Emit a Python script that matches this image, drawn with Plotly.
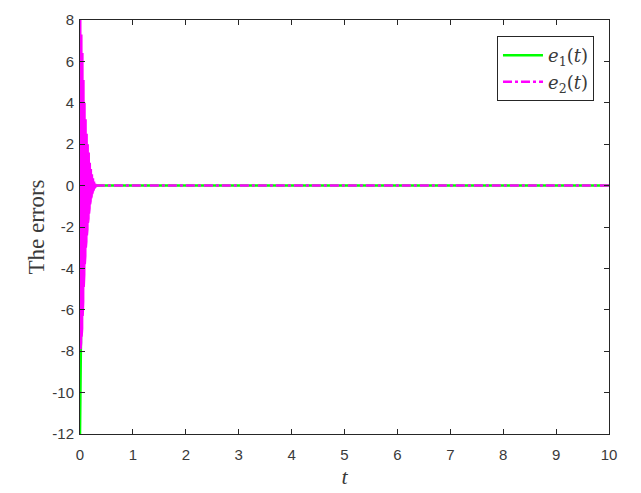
import plotly.graph_objects as go

# ---- data ----
t_e1 = [0.0, 0.005, 0.01, 0.02, 0.04, 0.06, 0.08, 0.10, 0.14, 0.18, 0.22, 0.26, 0.30, 1.0, 10.0]
e1 = [-12.0, -10.5, -9.0, -7.0, -5.0, -3.6, -2.6, -1.9, -1.0, -0.5, -0.25, -0.1, 0.0, 0.0, 0.0]

# e2: fast, decaying oscillation (successive peaks read from the envelope), then flat at zero
t_e2_osc = [0.000, 0.005, 0.010, 0.015, 0.020, 0.025, 0.030, 0.035, 0.040, 0.045,
            0.050, 0.055, 0.060, 0.065, 0.070, 0.075, 0.080, 0.085, 0.090, 0.095,
            0.100, 0.105, 0.110, 0.115, 0.120, 0.125, 0.130, 0.135, 0.140, 0.145,
            0.150, 0.155, 0.160, 0.165, 0.170, 0.175, 0.180, 0.185, 0.190, 0.195,
            0.200, 0.205, 0.210, 0.215, 0.220, 0.225, 0.230, 0.235, 0.240, 0.245,
            0.250, 0.255, 0.260, 0.265, 0.270, 0.275, 0.280, 0.285, 0.290, 0.295,
            0.300]
e2_osc = [8.0, -7.9, 7.7, -7.6, 7.3, -7.3, 6.9, -6.9, 6.4, -6.3,
          5.8, -5.6, 5.1, -4.9, 4.5, -4.3, 4.0, -3.8, 3.6, -3.4,
          3.2, -3.0, 2.8, -2.7, 2.5, -2.4, 2.2, -2.1, 2.0, -1.8,
          1.8, -1.6, 1.6, -1.35, 1.35, -1.1, 1.1, -0.9, 0.95, -0.75,
          0.8, -0.6, 0.65, -0.5, 0.55, -0.4, 0.45, -0.3, 0.35, -0.25,
          0.27, -0.18, 0.2, -0.12, 0.15, -0.08, 0.1, -0.05, 0.06, -0.03,
          0.0]
t_e2_tail = [0.30, 10.0]
e2_tail = [0.0, 0.0]

x_ticks = [0, 1, 2, 3, 4, 5, 6, 7, 8, 9, 10]
y_ticks = [-12, -10, -8, -6, -4, -2, 0, 2, 4, 6, 8]
y_tick_text = ["-12", "-10", "-8", "-6", "-4", "-2", "0", "2", "4", "6", "8"]

GREEN = "#00ff00"
MAGENTA = "#ff00ff"
AXC = "#262626"
TXT = "#3a3a3a"

fig = go.Figure()
fig.add_trace(go.Scatter(x=t_e1, y=e1, mode="lines", name="<i>e</i><sub>1</sub>(<i>t</i>)",
                         line=dict(color=GREEN, width=2.5)))
fig.add_trace(go.Scatter(x=t_e2_osc, y=e2_osc, mode="lines", showlegend=False,
                         legendgroup="e2", line=dict(color=MAGENTA, width=3)))
fig.add_trace(go.Scatter(x=t_e2_tail, y=e2_tail, mode="lines", name="<i>e</i><sub>2</sub>(<i>t</i>)",
                         legendgroup="e2", line=dict(color=MAGENTA, width=2.5, dash="dashdot")))

axis_common = dict(showline=True, linecolor=AXC, linewidth=1, mirror="ticks",
                   ticks="inside", ticklen=5, tickcolor=AXC, showgrid=False,
                   zeroline=False, automargin=False,
                   tickfont=dict(family="Liberation Sans, Arial", size=15, color=TXT))

fig.update_xaxes(range=[0, 10], tickvals=x_ticks, ticklabelstandoff=7,
                 title=dict(text="<i>t</i>", font=dict(family="Liberation Serif, serif", size=22, color=TXT),
                            standoff=6),
                 **axis_common)
fig.update_yaxes(range=[-12, 8], tickvals=y_ticks, ticktext=y_tick_text, ticklabelstandoff=2,
                 title=dict(text="The errors", font=dict(family="Liberation Serif, serif", size=23, color=TXT),
                            standoff=1),
                 **axis_common)

fig.update_layout(
    width=641, height=493,
    margin=dict(l=72, r=40, t=12, b=67),
    paper_bgcolor="white", plot_bgcolor="white",
    showlegend=True,
    legend=dict(x=0.9716, y=0.961, xanchor="right", yanchor="top",
                bgcolor="white", bordercolor=AXC, borderwidth=1,
                font=dict(family="DejaVu Serif, serif", size=18, color=TXT),
                tracegroupgap=0, itemwidth=40),
)

fig.write_html("out.html")
